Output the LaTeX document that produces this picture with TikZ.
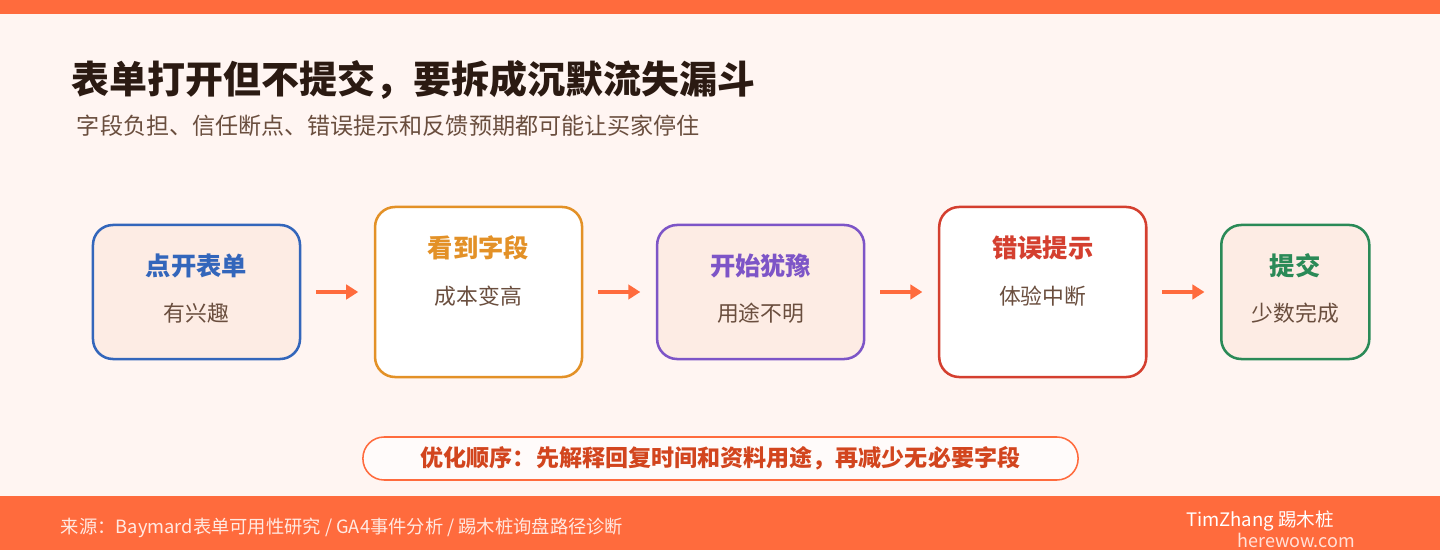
\documentclass[tikz,border=0pt]{standalone}
\usepackage{fontspec}
\setmainfont{Noto Sans CJK SC}
\usepackage{xcolor}
\usetikzlibrary{arrows.meta,positioning,calc}

\definecolor{bar}{HTML}{FF6B3D}
\definecolor{paper}{HTML}{FFF5F2}
\definecolor{ink}{HTML}{2B1A12}
\definecolor{inksoft}{HTML}{6A4E3E}
\definecolor{boxfill}{HTML}{FDECE4}
\definecolor{cblue}{HTML}{3366BB}
\definecolor{corange}{HTML}{E39127}
\definecolor{cpurple}{HTML}{7D55C7}
\definecolor{cred}{HTML}{D43F2F}
\definecolor{cgreen}{HTML}{2A8A57}
\definecolor{notetext}{HTML}{D2451E}

\begin{document}
\begin{tikzpicture}[x=0.025cm, y=-0.025cm,
        stage/.style={draw, line width=1.8pt, rounded corners=0.5cm, outer sep=0pt,
                      minimum width=5.175cm, minimum height=3.35cm},
        lowstage/.style={stage, fill=boxfill},
        highstage/.style={stage, fill=white, minimum height=4.25cm},
        ttl/.style={font=\bfseries\fontsize{18}{20}\selectfont},
        sub/.style={font=\fontsize{15.5}{18}\selectfont, text=inksoft},
        flow/.style={-{Triangle[length=3mm,width=3.6mm]}, line width=2.8pt, draw=bar,
                     shorten <=0.4cm, shorten >=0.42cm}
    ]
        \useasboundingbox (0,0) rectangle (1440,550);
        \fill[paper] (0,0) rectangle (1440,550);
        \fill[bar] (0,0) rectangle (1440,14);
        \fill[bar] (0,496) rectangle (1440,550);

        % heading
        \node[anchor=west, text=ink, font=\bfseries\fontsize{27}{30}\selectfont] (title) at (67,80)
            {表单打开但不提交，要拆成沉默流失漏斗};
        \node[anchor=west, text=inksoft, font=\fontsize{16.4}{18}\selectfont] (subtitle) at (72,126)
            {字段负担、信任断点、错误提示和反馈预期都可能让买家停住};

        % stages
        \node[lowstage, draw=cblue] (b1) at (196.5,292) {};
        \node[highstage, draw=corange, right=1.875cm of b1] (b2) {};
        \node[lowstage, draw=cpurple, right=1.875cm of b2] (b3) {};
        \node[highstage, draw=cred, right=1.875cm of b3] (b4) {};
        \node[lowstage, draw=cgreen, minimum width=3.7cm, right=1.875cm of b4] (b5) {};

        \node[ttl, text=cblue] (t1) at ($(b1.north)+(0,41)$) {点开表单};
        \node[sub] (s1) at ($(b1.north)+(0,88)$) {有兴趣};
        \node[ttl, text=corange] (t2) at ($(b2.north)+(0,41)$) {看到字段};
        \node[sub] (s2) at ($(b2.north)+(0,89)$) {成本变高};
        \node[ttl, text=cpurple] (t3) at ($(b3.north)+(0,41)$) {开始犹豫};
        \node[sub] (s3) at ($(b3.north)+(0,88)$) {用途不明};
        \node[ttl, text=cred] (t4) at ($(b4.north)+(0,41)$) {错误提示};
        \node[sub] (s4) at ($(b4.north)+(0,89)$) {体验中断};
        \node[ttl, text=cgreen] (t5) at ($(b5.north)+(0,41)$) {提交};
        \node[sub] (s5) at ($(b5.north)+(0,88)$) {少数完成};

        \draw[flow] (b1) -- (b2);
        \draw[flow] (b2) -- (b3);
        \draw[flow] (b3) -- (b4);
        \draw[flow] (b4) -- (b5);

        % advice
        \node[draw=bar, line width=1.1pt, fill=white!60!paper, rounded corners=0.53cm,
              minimum width=17.875cm, minimum height=1.075cm, text=notetext,
              font=\bfseries\fontsize{16.4}{18}\selectfont] (advice) at (720.5,458.5)
            {优化顺序：先解释回复时间和资料用途，再减少无必要字段};

        % footer
        \node[anchor=west, text=white!85!bar, font=\fontsize{13}{15}\selectfont] (source) at (56,528)
            {来源：Baymard表单可用性研究 / GA4事件分析 / 踢木桩询盘路径诊断};
        \node[anchor=east, text=white, font=\fontsize{13.2}{15}\selectfont] (author) at (1339,521)
            {TimZhang 踢木桩};
        \node[anchor=east, text=white!80!bar, font=\fontsize{12.8}{15}\selectfont] (site) at (1360,540)
            {herewow.com};
    \end{tikzpicture}
\end{document}
